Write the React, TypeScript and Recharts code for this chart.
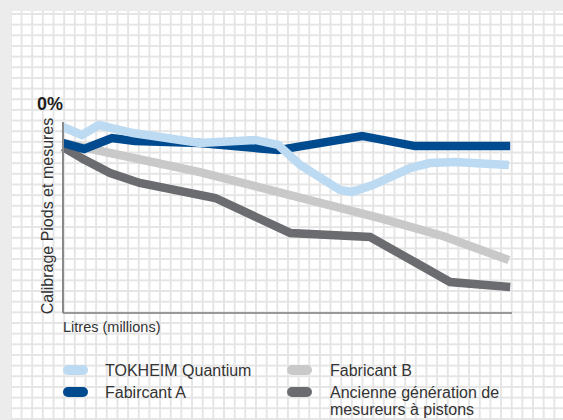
import React from "react";
import { LineChart, Line, XAxis, YAxis } from "recharts";

// X positions are on a 0–100 scale (share of the litres axis), Y values are % below 0.
const tokheimX = [0, 4.2, 8.0, 15.6, 30.5, 42.8, 47.9, 52.8, 61.7, 64.4, 69.0, 77.3, 81.7, 87.3, 99.3];
const tokheimY = [-2.6, -6.8, -1.6, -5.8, -11.0, -9.4, -12.0, -22.5, -35.6, -36.6, -33.0, -24.1, -21.5, -20.9, -22.5];

const fabAX = [0, 4.7, 10.9, 16.0, 30.5, 47.9, 66.6, 78.4, 99.6];
const fabAY = [-11.0, -14.1, -8.4, -9.9, -11.0, -14.7, -7.3, -12.6, -12.6];

const fabBX = [0, 30.5, 70.6, 84.6, 99.3];
const fabBY = [-11.0, -26.2, -50.3, -59.7, -72.3];

const ancX = [0, 4.5, 10.5, 17.1, 33.9, 50.6, 68.4, 79.5, 86.2, 99.6];
const ancY = [-13.1, -19.4, -26.7, -31.9, -39.8, -58.1, -60.2, -74.9, -83.8, -86.4];

const seriesNames = [
  "TOKHEIM Quantium",
  "Fabircant A",
  "Fabricant B",
  "Ancienne génération de mesureurs à pistons",
];
const seriesColors = ["#bcdaf2", "#004a8f", "#c9c9c9", "#6b6c70"];

const yTitle = "Calibrage Piods et mesures";
const xTitle = "Litres (millions)";
const topTick = "0%";

const zip = (xs: number[], ys: number[]) => xs.map((x, i) => ({ x, y: ys[i] }));

const tokheimData = zip(tokheimX, tokheimY);
const fabAData = zip(fabAX, fabAY);
const fabBData = zip(fabBX, fabBY);
const ancData = zip(ancX, ancY);

const FONT = '"Liberation Sans", Arial, Helvetica, sans-serif';

function Swatch({ color }: { color: string }) {
  return (
    <div
      style={{
        position: "absolute",
        left: 0,
        top: 2,
        width: 25,
        height: 10,
        borderRadius: 5,
        background: color,
      }}
    />
  );
}

export default function App() {
  return (
    <div
      style={{
        position: "absolute",
        left: 0,
        top: 0,
        width: 563,
        height: 420,
        background: "#ececec",
        overflow: "hidden",
        fontFamily: FONT,
      }}
    >
      <div
        style={{
          position: "absolute",
          left: 11,
          top: 11,
          width: 552,
          height: 409,
          backgroundColor: "#ffffff",
          backgroundImage:
            "linear-gradient(to right, #e5e5e5 1.5px, transparent 1.5px), linear-gradient(to bottom, #e5e5e5 1.5px, transparent 1.5px)",
          backgroundSize: "10.66px 10.66px",
          backgroundPosition: "-1.1px 2px",
        }}
      />
      <div style={{ position: "absolute", left: 0, top: 0 }}>
        <LineChart
          width={563}
          height={420}
          margin={{ top: 122, right: 51, left: 53, bottom: 97 }}
        >
          <XAxis
            type="number"
            dataKey="x"
            domain={[0, 100]}
            tick={false}
            tickLine={false}
            height={10}
            axisLine={{ stroke: "#7d7d7d", strokeWidth: 1.5 }}
            allowDuplicatedCategory={false}
          />
          <YAxis
            type="number"
            dataKey="y"
            domain={[-100, 0]}
            tick={false}
            tickLine={false}
            width={10}
            axisLine={{ stroke: "#8a8a8a", strokeWidth: 2 }}
          />
          <Line
            data={fabBData}
            dataKey="y"
            name={seriesNames[2]}
            stroke={seriesColors[2]}
            strokeWidth={8.5}
            dot={false}
            activeDot={false}
            strokeLinecap="butt"
            type="linear"
            isAnimationActive={false}
          />
          <Line
            data={ancData}
            dataKey="y"
            name={seriesNames[3]}
            stroke={seriesColors[3]}
            strokeWidth={8.5}
            dot={false}
            activeDot={false}
            strokeLinecap="butt"
            type="linear"
            isAnimationActive={false}
          />
          <Line
            data={fabAData}
            dataKey="y"
            name={seriesNames[1]}
            stroke={seriesColors[1]}
            strokeWidth={8.5}
            dot={false}
            activeDot={false}
            strokeLinecap="butt"
            type="linear"
            isAnimationActive={false}
          />
          <Line
            data={tokheimData}
            dataKey="y"
            name={seriesNames[0]}
            stroke={seriesColors[0]}
            strokeWidth={8.5}
            dot={false}
            activeDot={false}
            strokeLinecap="butt"
            type="linear"
            isAnimationActive={false}
          />
        </LineChart>
      </div>

      <div
        style={{
          position: "absolute",
          left: 37,
          top: 95,
          fontSize: 18,
          fontWeight: "bold",
          color: "#1e1e1e",
          lineHeight: "18px",
        }}
      >
        {topTick}
      </div>

      <div
        style={{
          position: "absolute",
          left: 47.5 - 110,
          top: 215.5 - 8,
          width: 220,
          height: 16,
          lineHeight: "16px",
          fontSize: 16,
          textAlign: "center",
          color: "#333",
          transform: "rotate(-90deg)",
          whiteSpace: "nowrap",
        }}
      >
        {yTitle}
      </div>

      <div
        style={{
          position: "absolute",
          left: 63,
          top: 319,
          fontSize: 14.5,
          lineHeight: "16px",
          color: "#333",
          whiteSpace: "nowrap",
        }}
      >
        {xTitle}
      </div>

      {/* Legend */}
      <div style={{ position: "absolute", left: 63, top: 363, width: 200, height: 16 }}>
        <Swatch color={seriesColors[0]} />
        <div style={{ position: "absolute", left: 42, top: 0, fontSize: 16, lineHeight: "16px", color: "#333", whiteSpace: "nowrap" }}>
          {seriesNames[0]}
        </div>
      </div>
      <div style={{ position: "absolute", left: 63, top: 385, width: 200, height: 16 }}>
        <Swatch color={seriesColors[1]} />
        <div style={{ position: "absolute", left: 42, top: 0, fontSize: 16, lineHeight: "16px", color: "#333", whiteSpace: "nowrap" }}>
          {seriesNames[1]}
        </div>
      </div>
      <div style={{ position: "absolute", left: 287, top: 363, width: 250, height: 16 }}>
        <Swatch color={seriesColors[2]} />
        <div style={{ position: "absolute", left: 43, top: 0, fontSize: 16, lineHeight: "16px", color: "#333", whiteSpace: "nowrap" }}>
          {seriesNames[2]}
        </div>
      </div>
      <div style={{ position: "absolute", left: 287, top: 385, width: 250, height: 34 }}>
        <Swatch color={seriesColors[3]} />
        <div style={{ position: "absolute", left: 43, top: 0, width: 190, fontSize: 16, lineHeight: "16.5px", color: "#333" }}>
          {seriesNames[3]}
        </div>
      </div>
    </div>
  );
}
